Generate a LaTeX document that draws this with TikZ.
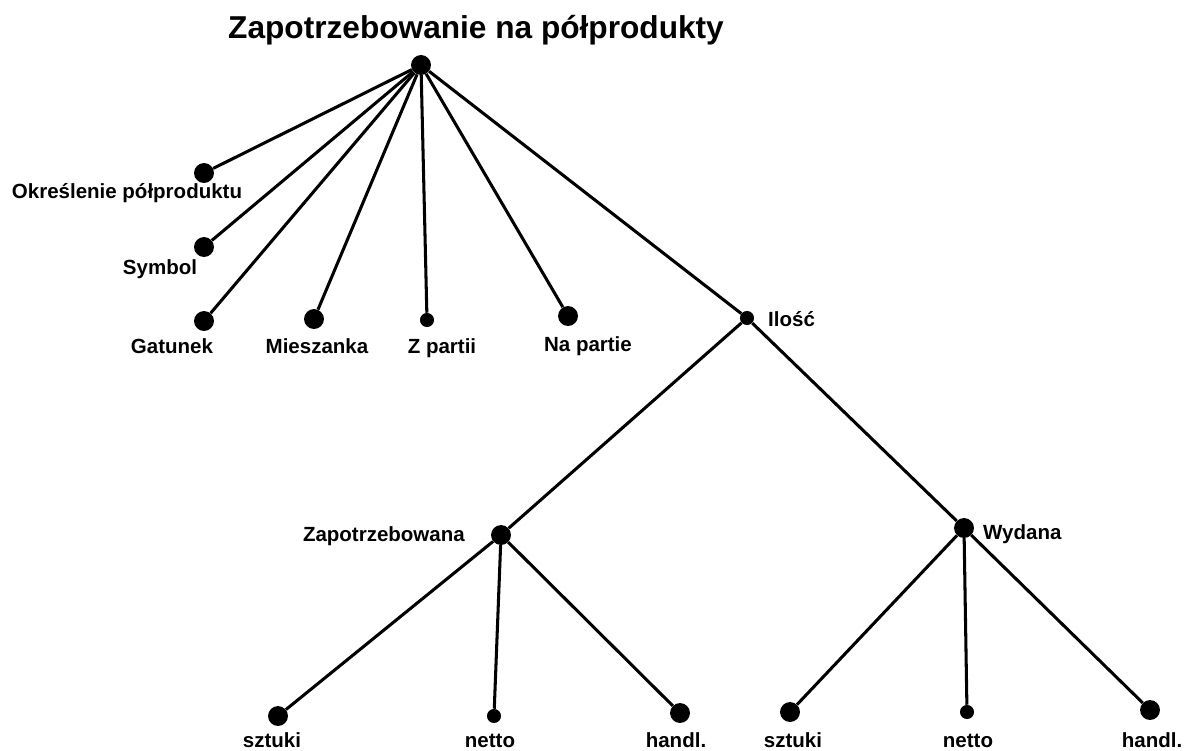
\documentclass[tikz,border=0pt]{standalone}
\usepackage{fontspec}
\setmainfont{Liberation Sans}
\begin{document}
\begin{tikzpicture}[x=0.03cm,y=-0.03cm,
  dot/.style={circle,fill=black,inner sep=0pt,minimum size=17pt},
  smalldot/.style={circle,fill=black,inner sep=0pt,minimum size=12pt},
  edge/.style={line width=2.6pt},
  lbl/.style={font=\bfseries\fontsize{17.5}{20}\selectfont,inner sep=0pt,anchor=base},
  ttl/.style={font=\bfseries\fontsize{27}{30}\selectfont,inner sep=0pt,anchor=base}]
\useasboundingbox (0,0) rectangle (1195,751);

% title
\node[ttl] (title) at (476,38) {Zapotrzebowanie na półprodukty};

% dots
\node[dot] (root) at (421,65) {};
\node[dot] (okr) at (204,173) {};
\node[dot] (sym) at (204,247) {};
\node[dot] (gat) at (204,321) {};
\node[dot] (mie) at (314,319) {};
\node[smalldot] (zpa) at (427,320) {};
\node[dot] (nap) at (568,316) {};
\node[smalldot] (ilo) at (747,318) {};
\node[dot] (zap) at (501,535) {};
\node[dot] (wyd) at (964,528) {};
\node[dot] (s1) at (278,716) {};
\node[smalldot] (n1) at (494,716) {};
\node[dot] (h1) at (680,713) {};
\node[dot] (s2) at (790,712) {};
\node[smalldot] (n2) at (967,712) {};
\node[dot] (h2) at (1150,710) {};

% connectors
\foreach \t in {okr,sym,gat,mie,zpa,nap,ilo} \draw[edge] (root) -- (\t);
\draw[edge] (ilo) -- (zap);
\draw[edge] (ilo) -- (wyd);
\foreach \t in {s1,n1,h1} \draw[edge] (zap) -- (\t);
\foreach \t in {s2,n2,h2} \draw[edge] (wyd) -- (\t);

% labels (placed on their baselines)
\node[lbl] (lokr) at (127,198) {Określenie półproduktu};
\node[lbl] (lsym) at (160,274) {Symbol};
\node[lbl] (lgat) at (172,353) {Gatunek};
\node[lbl] (lmie) at (317,353) {Mieszanka};
\node[lbl] (lzpa) at (442,353) {Z partii};
\node[lbl] (lnap) at (588,351) {Na partie};
\node[lbl,anchor=base west] (lilo) at (768,326) {Ilość};
\node[lbl,anchor=base east] (lzap) at (465,541) {Zapotrzebowana};
\node[lbl,anchor=base west] (lwyd) at (983,539) {Wydana};
\node[lbl] (ls1) at (272,747) {sztuki};
\node[lbl] (ln1) at (490,747) {netto};
\node[lbl] (lh1) at (676,747) {handl.};
\node[lbl] (ls2) at (793,747) {sztuki};
\node[lbl] (ln2) at (968,747) {netto};
\node[lbl] (lh2) at (1152,747) {handl.};
\end{tikzpicture}
\end{document}
